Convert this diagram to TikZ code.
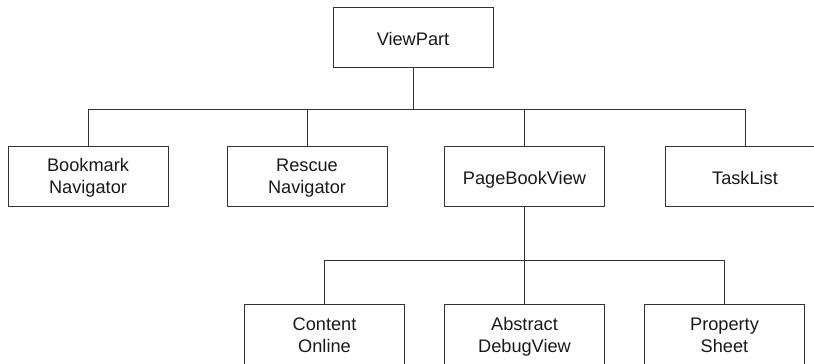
\documentclass[tikz,border=0pt]{standalone}
\usepackage{fontspec}
\setmainfont{Liberation Sans}
\newcommand\mytopone{\rule{0pt}{23.4pt}}
\newcommand\mytoptwo{\rule{0pt}{19.4pt}}
\begin{document}
\begin{tikzpicture}[x=1pt,y=-1pt,
  box/.style={draw=black!80,line width=1pt,rectangle,minimum width=160pt,minimum height=60pt,
    inner sep=0pt,align=center,text=black!90,font=\fontsize{18.2}{21.5}\selectfont},
  conn/.style={draw=black!80,line width=1pt}]
\useasboundingbox (0,0) rectangle (814,364);
\clip (0,0) rectangle (814,364);
\node[box] (vp) at (413,37) {\mytopone ViewPart\strut};
\node[box] (bm) at (88,176) {\mytoptwo Bookmark\\Navigator\strut};
\node[box] (rn) at (307,176) {\mytoptwo Rescue\\Navigator\strut};
\node[box] (pb) at (524.5,176) {\mytopone PageBookView\strut};
\node[box] (tl) at (745,176) {\mytopone TaskList\strut};
\node[box,minimum height=62pt] (co) at (324.5,335) {\mytoptwo Content\\Online\strut};
\node[box,minimum height=62pt] (ad) at (524.5,335) {\mytoptwo Abstract\\DebugView\strut};
\node[box,minimum height=62pt] (ps) at (724.5,335) {\mytoptwo Property\\Sheet\strut};
\coordinate (barA) at (0,109);
\coordinate (barB) at (0,260);
\draw[conn] (vp.south) -- (vp.south |- barA);
\draw[conn] (bm.north) -- (bm.north |- barA) -- (tl.north |- barA) -- (tl.north);
\draw[conn] (rn.north) -- (rn.north |- barA);
\draw[conn] (pb.north) -- (pb.north |- barA);
\draw[conn] (pb.south) -- (ad.north);
\draw[conn] (co.north) -- (co.north |- barB) -- (ps.north |- barB) -- (ps.north);
\end{tikzpicture}
\end{document}
